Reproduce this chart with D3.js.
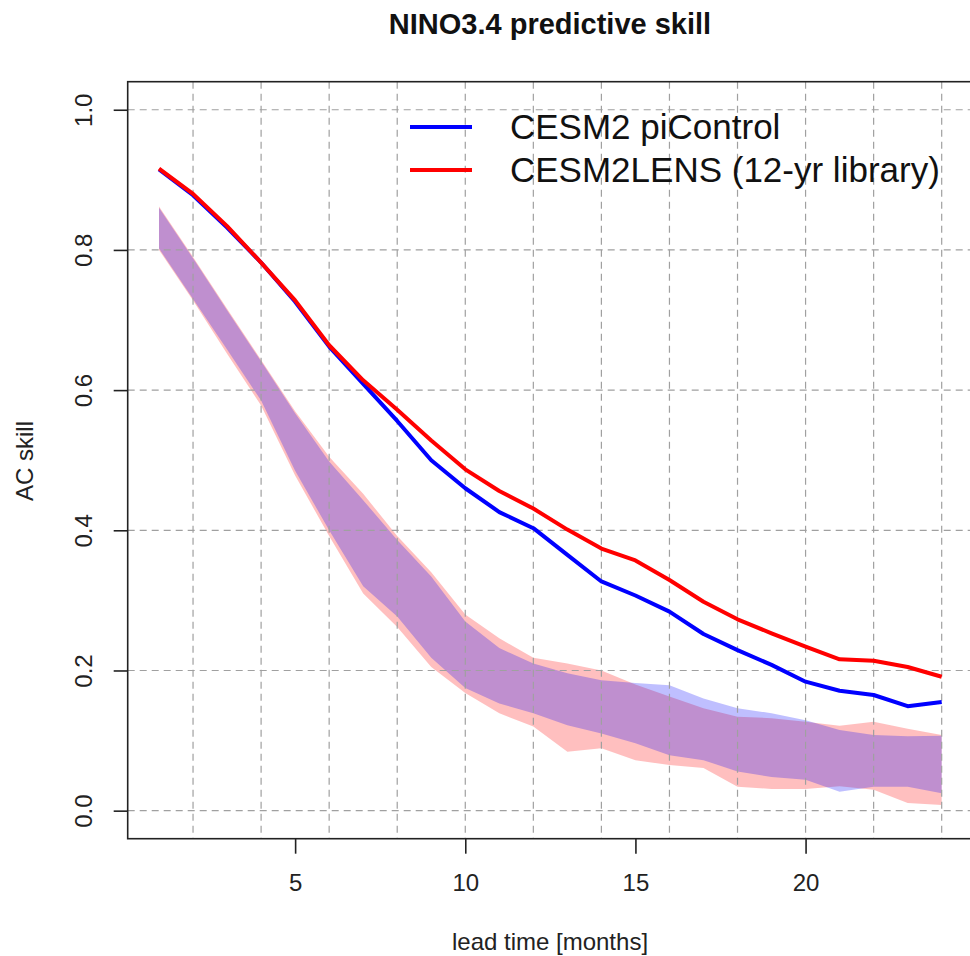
<!DOCTYPE html>
<html>
<head>
<meta charset="utf-8">
<script src="https://cdn.jsdelivr.net/npm/d3@7"></script>
<style>
  body { margin: 0; background: #fff; }
  svg { display: block; font-family: "Liberation Sans", Arial, Helvetica, sans-serif; }
</style>
</head>
<body>
<svg id="chart"></svg>
<script>
// lead time in months
const leadTime = [1, 2, 3, 4, 5, 6, 7, 8, 9, 10, 11, 12, 13, 14, 15, 16, 17, 18, 19, 20, 21, 22, 23, 24];

// CESM2 piControl
const piControl = [0.915, 0.878, 0.832, 0.782, 0.726, 0.662, 0.609, 0.556, 0.500, 0.460, 0.426, 0.403, 0.365, 0.327, 0.307, 0.284, 0.252, 0.229, 0.208, 0.184, 0.171, 0.165, 0.149, 0.155];
const piControlLow = [0.802, 0.730, 0.658, 0.585, 0.485, 0.400, 0.320, 0.277, 0.218, 0.175, 0.153, 0.139, 0.122, 0.110, 0.096, 0.079, 0.072, 0.056, 0.048, 0.044, 0.027, 0.034, 0.034, 0.025];
const piControlHigh = [0.860, 0.788, 0.714, 0.641, 0.567, 0.498, 0.443, 0.386, 0.334, 0.270, 0.232, 0.210, 0.196, 0.186, 0.182, 0.179, 0.160, 0.146, 0.139, 0.129, 0.115, 0.108, 0.106, 0.107];

// CESM2LENS (12-yr library)
const lens = [0.916, 0.880, 0.834, 0.782, 0.728, 0.664, 0.614, 0.572, 0.528, 0.487, 0.456, 0.431, 0.401, 0.374, 0.357, 0.329, 0.298, 0.273, 0.253, 0.234, 0.216, 0.214, 0.205, 0.191];
const lensLow = [0.800, 0.728, 0.652, 0.578, 0.478, 0.392, 0.310, 0.262, 0.205, 0.168, 0.139, 0.120, 0.084, 0.089, 0.072, 0.065, 0.061, 0.034, 0.031, 0.031, 0.035, 0.030, 0.011, 0.008];
const lensHigh = [0.862, 0.790, 0.716, 0.643, 0.570, 0.505, 0.452, 0.392, 0.340, 0.280, 0.246, 0.218, 0.210, 0.200, 0.180, 0.163, 0.146, 0.134, 0.132, 0.127, 0.121, 0.127, 0.117, 0.108];

const xTicks = [5, 10, 15, 20];
const yTicks = [0, 0.2, 0.4, 0.6, 0.8, 1.0];
const xGrid = [2, 4, 6, 8, 10, 12, 14, 16, 18, 20, 22, 24];

const width = 970;
const height = 956;
const plot = { left: 127.7, right: 973, top: 81.7, bottom: 838.7 };

const svg = d3.select('#chart')
  .attr('width', width)
  .attr('height', height);

// R-style axis ranges (4% padding)
const x = d3.scaleLinear()
  .domain([0.08, 24.92])
  .range([plot.left, plot.right]);
const y = d3.scaleLinear()
  .domain([-0.04, 1.04])
  .range([plot.bottom, plot.top]);

const rows = leadTime.map((t, i) => ({
  t,
  pi: piControl[i], piLo: piControlLow[i], piHi: piControlHigh[i],
  le: lens[i], leLo: lensLow[i], leHi: lensHigh[i],
}));

// Spread bands
const bandRed = d3.area()
  .x(d => x(d.t))
  .y0(d => y(d.leLo))
  .y1(d => y(d.leHi));
const bandBlue = d3.area()
  .x(d => x(d.t))
  .y0(d => y(d.piLo))
  .y1(d => y(d.piHi));

svg.append('path')
  .datum(rows)
  .attr('d', bandRed)
  .attr('fill', '#ff0000')
  .attr('fill-opacity', 0.25);
svg.append('path')
  .datum(rows)
  .attr('d', bandBlue)
  .attr('fill', '#0000ff')
  .attr('fill-opacity', 0.25);

// Grid
const grid = svg.append('g')
  .attr('stroke', '#a0a0a0')
  .attr('stroke-width', 1.2)
  .attr('stroke-dasharray', '7,5');
grid.selectAll('.vgrid')
  .data(xGrid)
  .enter().append('line')
    .attr('x1', d => x(d)).attr('x2', d => x(d))
    .attr('y1', plot.top).attr('y2', plot.bottom);
grid.selectAll('.hgrid')
  .data(yTicks)
  .enter().append('line')
    .attr('x1', plot.left).attr('x2', plot.right)
    .attr('y1', d => y(d)).attr('y2', d => y(d));

// Mean lines
const line = key => d3.line()
  .x(d => x(d.t))
  .y(d => y(d[key]));

svg.append('path')
  .datum(rows)
  .attr('d', line('pi'))
  .attr('fill', 'none')
  .attr('stroke', '#0000ff')
  .attr('stroke-width', 4)
  .attr('stroke-linejoin', 'round');
svg.append('path')
  .datum(rows)
  .attr('d', line('le'))
  .attr('fill', 'none')
  .attr('stroke', '#ff0000')
  .attr('stroke-width', 4)
  .attr('stroke-linejoin', 'round');

// Box
svg.append('rect')
  .attr('x', plot.left)
  .attr('y', plot.top)
  .attr('width', plot.right - plot.left)
  .attr('height', plot.bottom - plot.top)
  .attr('fill', 'none')
  .attr('stroke', '#222')
  .attr('stroke-width', 1.6);

// X axis
const xAxis = d3.axisBottom(x)
  .tickValues(xTicks)
  .tickSize(15)
  .tickPadding(20)
  .tickFormat(d3.format('d'));
const gx = svg.append('g')
  .attr('transform', `translate(0, ${plot.bottom})`)
  .call(xAxis);
gx.select('.domain').remove();
gx.selectAll('line').attr('stroke', '#222').attr('stroke-width', 1.6);
gx.selectAll('text')
  .attr('font-size', 24)
  .attr('font-family', '"Liberation Sans", Arial, sans-serif')
  .attr('fill', '#222');

// Y axis
const yAxis = d3.axisLeft(y)
  .tickValues(yTicks)
  .tickSize(14)
  .tickFormat(d3.format('.1f'));
const gy = svg.append('g')
  .attr('transform', `translate(${plot.left}, 0)`)
  .call(yAxis);
gy.select('.domain').remove();
gy.selectAll('line').attr('stroke', '#222').attr('stroke-width', 1.6);
gy.selectAll('text')
  .attr('font-size', 24)
  .attr('font-family', '"Liberation Sans", Arial, sans-serif')
  .attr('fill', '#222')
  .attr('x', 0)
  .attr('dy', 0)
  .attr('text-anchor', 'middle')
  .attr('transform', `translate(${92 - plot.left}, 0) rotate(-90)`);

// Titles
svg.append('text')
  .attr('x', 550)
  .attr('y', 34)
  .attr('text-anchor', 'middle')
  .attr('font-size', 29)
  .attr('font-weight', 'bold')
  .attr('fill', '#111')
  .text('NINO3.4 predictive skill');
svg.append('text')
  .attr('x', 550)
  .attr('y', 950)
  .attr('text-anchor', 'middle')
  .attr('font-size', 24)
  .attr('fill', '#222')
  .text('lead time [months]');
svg.append('text')
  .attr('transform', 'translate(33, 461) rotate(-90)')
  .attr('text-anchor', 'middle')
  .attr('font-size', 24)
  .attr('fill', '#222')
  .text('AC skill');

// Legend
const legendItems = [
  { label: 'CESM2 piControl', color: '#0000ff' },
  { label: 'CESM2LENS (12-yr library)', color: '#ff0000' },
];
const legend = svg.selectAll('.legend')
  .data(legendItems)
  .enter().append('g')
    .attr('transform', (d, i) => `translate(0, ${127 + i * 43})`);
legend.append('line')
  .attr('x1', 410).attr('x2', 472)
  .attr('stroke', d => d.color)
  .attr('stroke-width', 4);
legend.append('text')
  .attr('x', 510)
  .attr('y', 12)
  .attr('font-size', 35)
  .attr('fill', '#111')
  .text(d => d.label);
</script>
</body>
</html>
